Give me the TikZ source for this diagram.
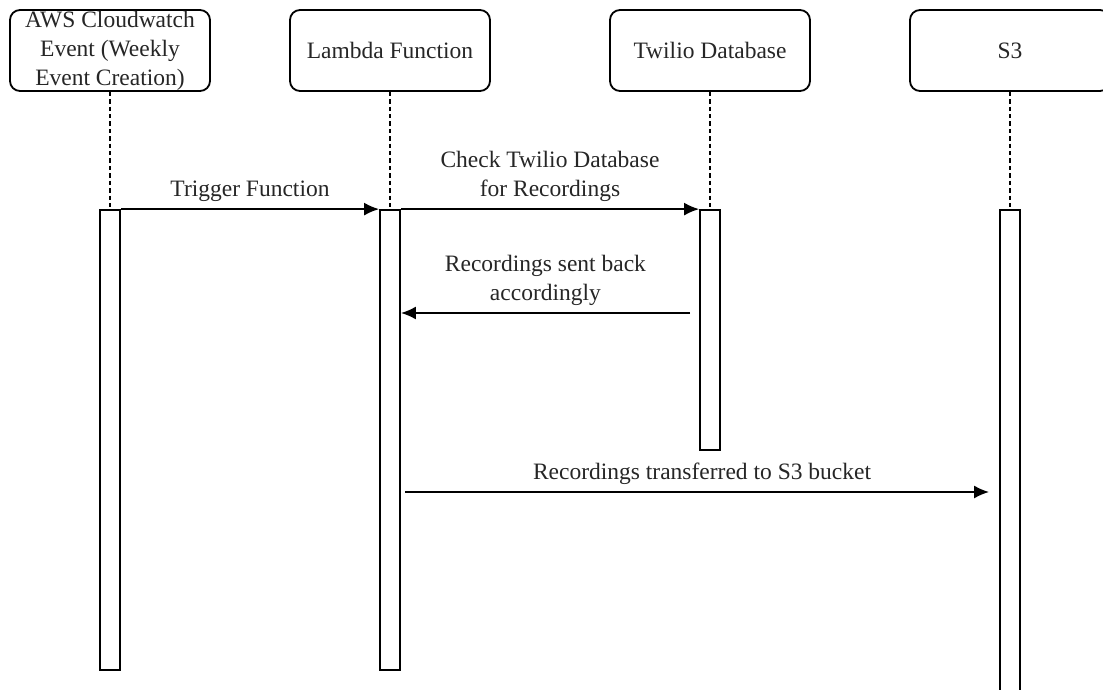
\documentclass[tikz,border=0pt]{standalone}
\usepackage{fontspec}
\setmainfont{Liberation Serif}
\usetikzlibrary{arrows.meta}

\begin{document}
\begin{tikzpicture}[x=0.5pt,y=-0.5pt,text=black!85]
	\tikzstyle{actor}=[draw,rounded corners=5pt,minimum width=100pt,minimum height=40.5pt,inner sep=0pt,align=center,line width=0.9pt,font=\fontsize{11.75}{14.5}\selectfont]
	\tikzstyle{bar}=[draw,minimum width=10pt,inner sep=0pt,line width=0.9pt]
	\tikzstyle{life}=[dash pattern=on 2.2pt off 1.5pt,line width=0.7pt]
	\tikzstyle{msg}=[-{Latex[length=7.5pt,width=6.5pt]},line width=0.9pt]
	\tikzstyle{lbl}=[above,align=center,font=\fontsize{11.75}{14.5}\selectfont]
	\useasboundingbox (0,0) rectangle (1103,690);
	\node[actor](cw) at (110,50.5) {AWS Cloudwatch\\Event (Weekly\\Event Creation)};
	\node[actor](lambda) at (390,50.5) {Lambda Function};
	\node[actor](twilio) at (710,50.5) {Twilio Database};
	\node[actor](s3) at (1010,50.5) {S3};
	\node[bar,minimum height=230pt](cwbar) at (110,440) {};
	\node[bar,minimum height=230pt](lbar) at (390,440) {};
	\node[bar,minimum height=120pt](tbar) at (710,330) {};
	\node[bar,minimum height=245pt](sbar) at (1010,455) {};
	\draw[life](cw.south) -- (cwbar.north);
	\draw[life](lambda.south) -- (lbar.north);
	\draw[life](twilio.south) -- (tbar.north);
	\draw[life](s3.south) -- (sbar.north);
	\draw[msg](cwbar.north east) -- node[lbl]{Trigger Function} (lbar.north west);
	\draw[msg](lbar.north east) -- node[lbl]{Check Twilio Database\\for Recordings} (tbar.north west);
	\coordinate (back) at (690,313);
	\draw[msg](back) -- node[lbl]{Recordings sent back\\accordingly} (back -| lbar.east);
	\coordinate (xfer) at (405,492);
	\draw[msg,shorten >=5pt](xfer) -- node[lbl]{Recordings transferred to S3 bucket} (xfer -| sbar.west);
\end{tikzpicture}
\end{document}
